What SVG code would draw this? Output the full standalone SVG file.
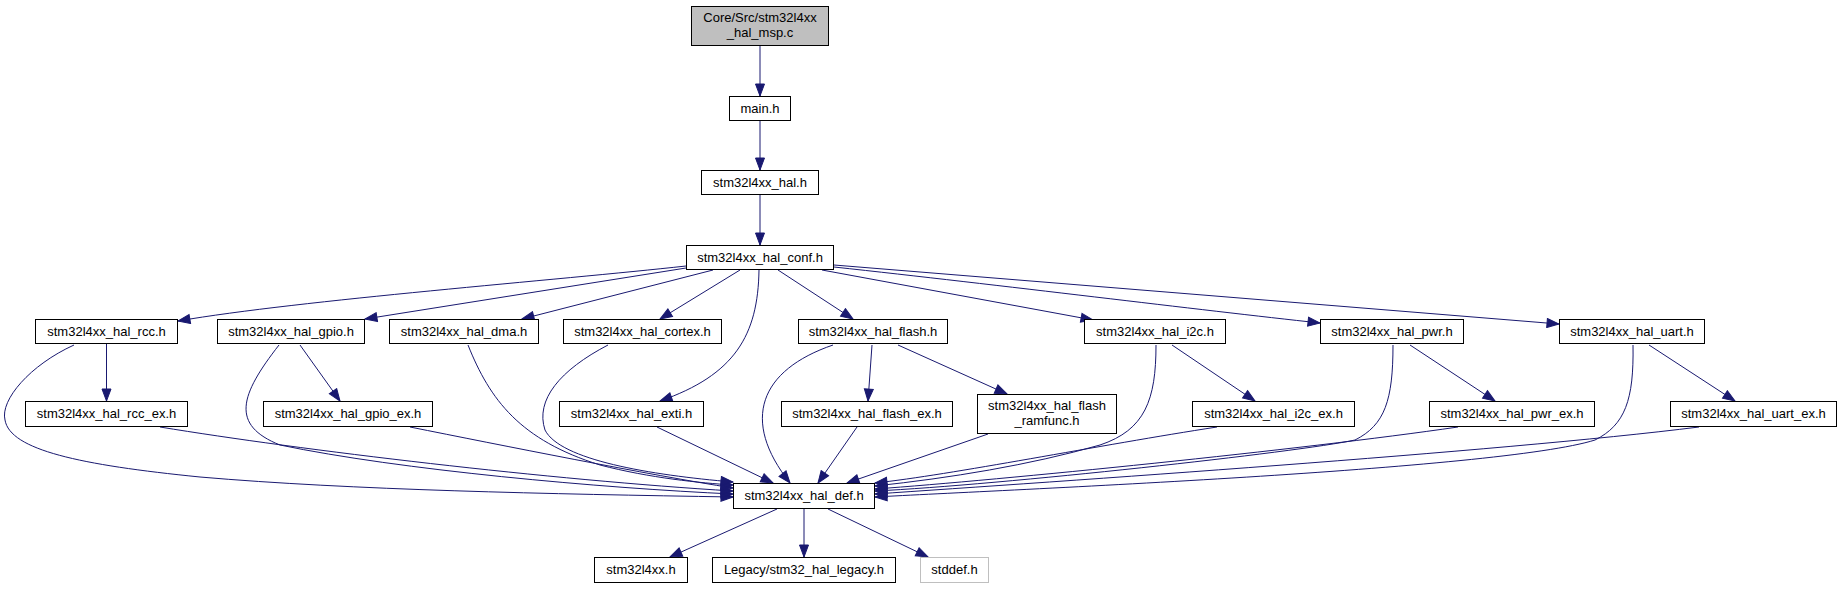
<svg xmlns="http://www.w3.org/2000/svg" width="1842" height="589" viewBox="0 0 1842 589">
<style>
.n rect{fill:#fff;stroke:#000;stroke-width:1}
.n text{font-family:"Liberation Sans",Arial,Helvetica,sans-serif;font-size:13px;text-anchor:middle;fill:#000}
.e path{fill:none;stroke:#191970;stroke-width:1;marker-end:url(#ah)}
#root rect{fill:#bfbfbf}
#stddef rect{stroke:#bfbfbf}
</style>
<defs>
<marker id="ah" markerUnits="userSpaceOnUse" markerWidth="14" markerHeight="11" viewBox="-1 -1 14 11" refX="12" refY="4.5" orient="auto">
<path d="M0,0 L12,4.5 L0,9 Z" fill="#191970" stroke="#191970" stroke-width="1"/>
</marker>
</defs>
<rect width="1842" height="589" fill="#fff"/>
<g id="edges" class="e">
<path d="M760,46 L760,96"/>
<path d="M760,121 L760,170"/>
<path d="M760,195 L760,245"/>
<path d="M686,266 C560,280 300,300 178,321"/>
<path d="M686,268 L365,319"/>
<path d="M713,270 L522,319"/>
<path d="M740,270 L660,319"/>
<path d="M759,270 C758,335 735,375 660,401"/>
<path d="M778,270 L853,319"/>
<path d="M822,270 L1093,320"/>
<path d="M834,267 C1000,285 1200,310 1320,323"/>
<path d="M834,265 L1559,324"/>
<path d="M106.5,344 L106.5,401"/>
<path d="M74,345 C30,365 0,400 5,420 C10,450 80,465 200,477 C350,490 550,494 733,497"/>
<path d="M300,345 L340,401"/>
<path d="M279,345 C240,395 230,425 280,445 C400,470 600,488 733,494"/>
<path d="M160,427 C300,450 550,480 733,491"/>
<path d="M410,427 C500,445 650,475 733,488"/>
<path d="M468,345 C490,400 520,440 600,465 C650,478 700,483 733,485"/>
<path d="M608,345 C560,370 535,400 545,430 C560,460 650,475 733,482"/>
<path d="M657,427 L773,483"/>
<path d="M833,345 C760,370 740,420 790,483"/>
<path d="M872,345 L868,401"/>
<path d="M898,345 L1007,394"/>
<path d="M857,427 L818,483"/>
<path d="M988,434 L847,483"/>
<path d="M1156,345 C1156,400 1145,430 1100,445 C1030,465 950,478 875,486"/>
<path d="M1172,345 L1255,401"/>
<path d="M1217,427 C1100,445 950,475 875,483"/>
<path d="M1393,345 C1393,400 1385,425 1355,440 C1300,452 1000,485 875,491"/>
<path d="M1410,345 L1495,401"/>
<path d="M1458,427 C1300,450 1000,480 875,489"/>
<path d="M1633,345 C1634,400 1625,425 1595,440 C1500,470 1000,490 875,497"/>
<path d="M1649,345 L1735,401"/>
<path d="M1699,427 C1500,452 1050,482 875,494"/>
<path d="M777,509 L670,557"/>
<path d="M804,509 L804,557"/>
<path d="M828,509 L928,557"/>
</g>
<g id="root" class="n"><rect x="691.5" y="6.5" width="137" height="39"/><text x="760" y="22">Core/Src/stm32l4xx</text><text x="760" y="37">_hal_msp.c</text></g>
<g id="main_h" class="n"><rect x="729.5" y="96.5" width="61" height="24"/><text x="760" y="113">main.h</text></g>
<g id="hal_h" class="n"><rect x="701.5" y="170.5" width="117" height="24"/><text x="760" y="187">stm32l4xx_hal.h</text></g>
<g id="hal_conf" class="n"><rect x="686.5" y="245.5" width="147" height="24"/><text x="760" y="262">stm32l4xx_hal_conf.h</text></g>
<g id="hal_rcc" class="n"><rect x="35.5" y="319.5" width="142" height="24"/><text x="106.5" y="336">stm32l4xx_hal_rcc.h</text></g>
<g id="hal_gpio" class="n"><rect x="217.5" y="319.5" width="147" height="24"/><text x="291" y="336">stm32l4xx_hal_gpio.h</text></g>
<g id="hal_dma" class="n"><rect x="389.5" y="319.5" width="149" height="24"/><text x="464" y="336">stm32l4xx_hal_dma.h</text></g>
<g id="hal_cortex" class="n"><rect x="563.5" y="319.5" width="158" height="24"/><text x="642.5" y="336">stm32l4xx_hal_cortex.h</text></g>
<g id="hal_flash" class="n"><rect x="798.5" y="319.5" width="149" height="24"/><text x="873" y="336">stm32l4xx_hal_flash.h</text></g>
<g id="hal_i2c" class="n"><rect x="1084.5" y="319.5" width="141" height="24"/><text x="1155" y="336">stm32l4xx_hal_i2c.h</text></g>
<g id="hal_pwr" class="n"><rect x="1320.5" y="319.5" width="143" height="24"/><text x="1392" y="336">stm32l4xx_hal_pwr.h</text></g>
<g id="hal_uart" class="n"><rect x="1559.5" y="319.5" width="145" height="24"/><text x="1632" y="336">stm32l4xx_hal_uart.h</text></g>
<g id="hal_rcc_ex" class="n"><rect x="25.5" y="401.5" width="162" height="25"/><text x="106.5" y="418">stm32l4xx_hal_rcc_ex.h</text></g>
<g id="hal_gpio_ex" class="n"><rect x="263.5" y="401.5" width="169" height="25"/><text x="348" y="418">stm32l4xx_hal_gpio_ex.h</text></g>
<g id="hal_exti" class="n"><rect x="559.5" y="401.5" width="144" height="25"/><text x="631.5" y="418">stm32l4xx_hal_exti.h</text></g>
<g id="hal_flash_ex" class="n"><rect x="781.5" y="401.5" width="171" height="25"/><text x="867" y="418">stm32l4xx_hal_flash_ex.h</text></g>
<g id="hal_flash_ramfunc" class="n"><rect x="977.5" y="394.5" width="139" height="39"/><text x="1047" y="410">stm32l4xx_hal_flash</text><text x="1047" y="425">_ramfunc.h</text></g>
<g id="hal_i2c_ex" class="n"><rect x="1192.5" y="401.5" width="162" height="25"/><text x="1273.5" y="418">stm32l4xx_hal_i2c_ex.h</text></g>
<g id="hal_pwr_ex" class="n"><rect x="1429.5" y="401.5" width="165" height="25"/><text x="1512" y="418">stm32l4xx_hal_pwr_ex.h</text></g>
<g id="hal_uart_ex" class="n"><rect x="1670.5" y="401.5" width="166" height="25"/><text x="1753.5" y="418">stm32l4xx_hal_uart_ex.h</text></g>
<g id="hal_def" class="n"><rect x="733.5" y="483.5" width="141" height="25"/><text x="804" y="500">stm32l4xx_hal_def.h</text></g>
<g id="stm32l4xx" class="n"><rect x="594.5" y="557.5" width="93" height="25"/><text x="641" y="574">stm32l4xx.h</text></g>
<g id="legacy" class="n"><rect x="712.5" y="557.5" width="183" height="25"/><text x="804" y="574">Legacy/stm32_hal_legacy.h</text></g>
<g id="stddef" class="n"><rect x="920.5" y="557.5" width="68" height="25"/><text x="954.5" y="574">stddef.h</text></g>
</svg>
